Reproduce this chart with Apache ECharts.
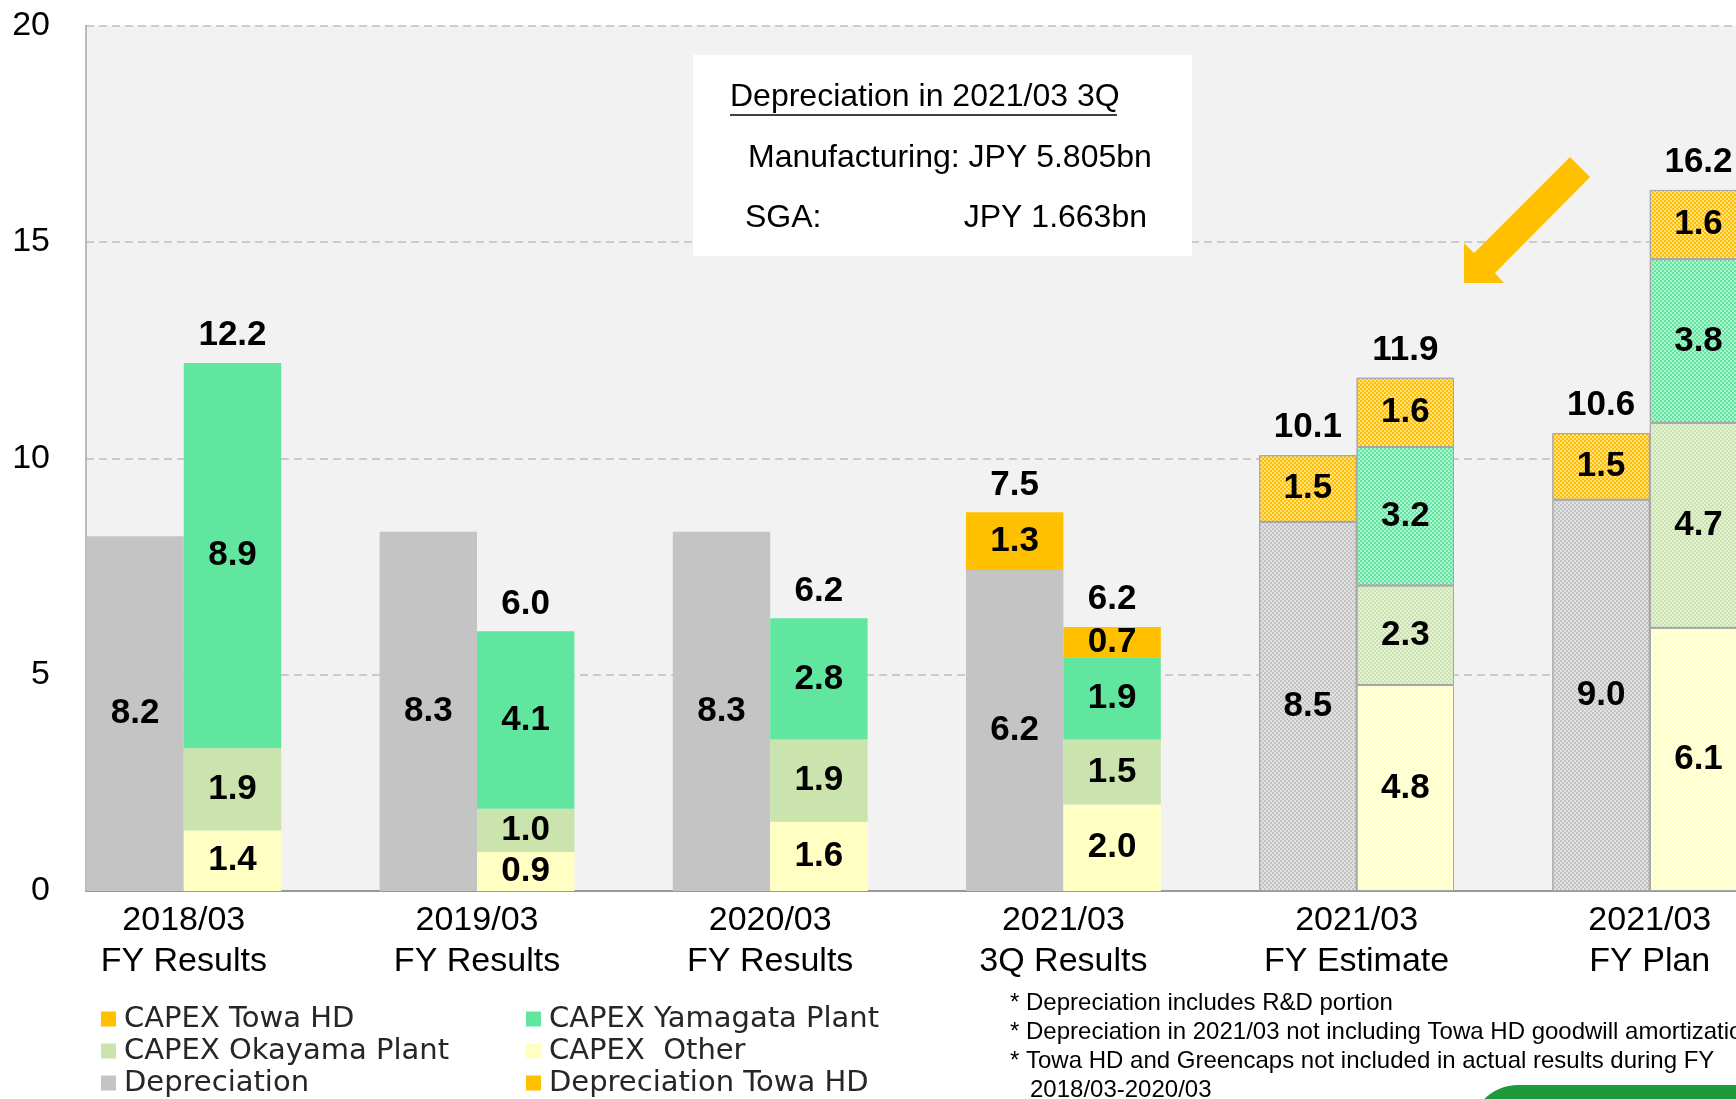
<!DOCTYPE html>
<html>
<head>
<meta charset="utf-8">
<title>Depreciation and CAPEX</title>
<script src="https://cdn.jsdelivr.net/npm/echarts@6/dist/echarts.min.js"></script>
<style>
  html, body { margin: 0; padding: 0; background: #fff; overflow: hidden; }
  /* wider than the window: the last column runs off the right edge as in the slide */
  #chart { width: 1800px; height: 1099px; }
</style>
</head>
<body>
<div id="chart"></div>
<script>
var categories = ['2018/03\nFY Results', '2019/03\nFY Results', '2020/03\nFY Results',
                  '2021/03\n3Q Results', '2021/03\nFY Estimate', '2021/03\nFY Plan'];

// left bar of each pair: depreciation (JPY bn)
var depreciation = [8.2, 8.3, 8.3, 7.42, 8.53, 9.04];
var depreciationLabels = ['8.2', '8.3', '8.3', '6.2', '8.5', '9.0'];
var depreciationTowa = [0, 0, 0, 1.33, 1.54, 1.54];
var depreciationTotals = ['', '', '', '7.5', '10.1', '10.6'];

// right bar of each pair: capex (JPY bn)
var capexOther = [1.4, 0.9, 1.6, 2.0, 4.76, 6.08];
var capexOkayama = [1.9, 1.0, 1.9, 1.5, 2.3, 4.74];
var capexYamagata = [8.9, 4.1, 2.8, 1.9, 3.2, 3.78];
var capexTowa = [0, 0, 0, 0.7, 1.6, 1.6];
var capexTotals = ['12.2', '6.0', '6.2', '6.2', '11.9', '16.2'];

var forecastFrom = 4; // estimate / plan columns are hatched

var footnotes = ['* Depreciation includes R&D portion',
                 '* Depreciation in 2021/03 not including Towa HD goodwill amortization',
                 '* Towa HD and Greencaps not included in actual results during FY',
                 '   2018/03-2020/03'];

function $extend(a, b) {
    var o = {};
    for (var k in a) o[k] = a[k];
    for (var k2 in b) o[k2] = b[k2];
    return o;
}

var hatch = {
    symbol: 'rect',
    symbolSize: 1,
    color: 'rgba(255,255,255,0.5)',
    dashArrayX: [[2, 2], [0, 2, 2, 0]],
    dashArrayY: [2, 0],
    rotation: 0
};

function makeData(values) {
    return values.map(function (v, i) {
        if (i < forecastFrom) return v;
        return { value: v, itemStyle: { decal: hatch, borderColor: '#a6a6a6', borderWidth: 1 } };
    });
}

var barFont = { color: '#000', fontFamily: 'Liberation Sans', fontWeight: 'bold', fontSize: 35 };

var segLabel = $extend(barFont, {
    show: true,
    position: 'inside',
    formatter: function (p) { return +p.value ? (+p.value).toFixed(1) : ''; }
});

function segSeries(name, stack, values, color) {
    return {
        name: name,
        type: 'bar',
        xAxisIndex: 1,
        yAxisIndex: 1,
        stack: stack,
        stackStrategy: 'all',
        barWidth: 97.4,
        barGap: '0%',
        itemStyle: { color: color },
        label: segLabel,
        data: makeData(values)
    };
}

function totalSeries(stack, totals) {
    return {
        name: stack + ' total',
        type: 'bar',
        xAxisIndex: 1,
        yAxisIndex: 1,
        stack: stack,
        stackStrategy: 'all',
        barWidth: 97.4,
        barGap: '0%',
        itemStyle: { color: 'transparent' },
        label: $extend(barFont, {
            show: true,
            position: 'top',
            distance: 10,
            formatter: function (p) { return totals[p.dataIndex]; }
        }),
        data: totals.map(function (t) { return t === '' ? '-' : 0; })
    };
}

var depSeries = segSeries('Depreciation', 'dep', depreciation, '#c4c4c4');
depSeries.label = $extend(segLabel, {
    formatter: function (p) { return depreciationLabels[p.dataIndex]; }
});

var legendCommon = {
    orient: 'vertical',
    top: 1004,
    padding: 0,
    itemWidth: 15,
    itemHeight: 15,
    itemGap: 2,
    icon: 'rect',
    selectedMode: false,
    textStyle: { fontFamily: 'DejaVu Sans', fontSize: 29, color: '#262626', lineHeight: 30, padding: [0, 0, 0, 3] }
};

var graphics = [
    { type: 'rect', z: 100, shape: { x: 693, y: 55, width: 499, height: 201 }, style: { fill: '#fff' } },
    { type: 'text', z: 101, style: { text: 'Depreciation in 2021/03 3Q', x: 730, y: 97, verticalAlign: 'middle',
        font: '32px "Liberation Sans"', fill: '#000' } },
    { type: 'line', z: 101, shape: { x1: 730, y1: 115, x2: 1117, y2: 115 }, style: { stroke: '#000', lineWidth: 1.5 } },
    { type: 'text', z: 101, style: { text: 'Manufacturing: JPY 5.805bn', x: 748, y: 158, verticalAlign: 'middle',
        font: '32px "Liberation Sans"', fill: '#000' } },
    { type: 'text', z: 101, style: { text: 'SGA:', x: 745, y: 218, verticalAlign: 'middle',
        font: '32px "Liberation Sans"', fill: '#000' } },
    { type: 'text', z: 101, style: { text: 'JPY 1.663bn', x: 1147, y: 218, align: 'right', verticalAlign: 'middle',
        font: '32px "Liberation Sans"', fill: '#000' } },
    // yellow arrow pointing at the estimate column
    { type: 'polygon', z: 101, shape: { points: [[1570, 157], [1590, 177], [1495, 273], [1504, 283],
        [1464, 283], [1464, 243], [1474, 253]] }, style: { fill: '#ffc000' } },
    // green shape peeking in the bottom right corner
    { type: 'rect', z: 101, shape: { x: 1470, y: 1085, width: 420, height: 120, r: 48 }, style: { fill: '#1f9a3a' } }
];
footnotes.forEach(function (t, i) {
    graphics.push({ type: 'text', z: 101, style: { text: t, x: 1010, y: 1003 + i * 29, verticalAlign: 'middle',
        font: '24px "Liberation Sans"', fill: '#000' } });
});

var plotTop = 25.5, plotBottom = 1099 - 891;

var option = {
    backgroundColor: '#fff',
    animation: false,
    grid: [
        // plot frame: background, value axis and gridlines
        { left: 86, top: plotTop, right: 0, bottom: plotBottom, show: true, backgroundColor: '#f2f2f2', borderWidth: 0 },
        // bars: category bands start left of the frame so the first pair sits on the axis
        { left: 37.2, top: plotTop, width: 1759.2, bottom: plotBottom }
    ],
    xAxis: [
        {
            gridIndex: 0,
            type: 'category',
            data: categories,
            axisLine: { show: true, lineStyle: { color: '#999', width: 2 } },
            axisTick: { show: false },
            axisLabel: { show: false }
        },
        {
            gridIndex: 1,
            type: 'category',
            data: categories,
            axisLine: { show: false },
            axisTick: { show: false },
            axisLabel: {
                interval: 0,
                color: '#000',
                fontFamily: 'Liberation Sans',
                fontSize: 34,
                lineHeight: 41,
                margin: 9
            }
        }
    ],
    yAxis: [
        {
            gridIndex: 0,
            type: 'value',
            min: 0,
            max: 20,
            interval: 5,
            axisLine: { show: true, lineStyle: { color: '#a6a6a6', width: 1.5 } },
            axisTick: { show: false },
            splitLine: { show: true, lineStyle: { color: '#bfbfbf', width: 1.5, type: [8, 5] } },
            axisLabel: { color: '#000', fontFamily: 'Liberation Sans', fontSize: 34, margin: 36 }
        },
        {
            gridIndex: 1,
            type: 'value',
            min: 0,
            max: 20,
            interval: 5,
            show: false,
            splitLine: { show: false }
        }
    ],
    legend: [
        $extend(legendCommon, { left: 101, data: ['CAPEX Towa HD', 'CAPEX Okayama Plant', 'Depreciation'] }),
        $extend(legendCommon, { left: 526, data: ['CAPEX Yamagata Plant', 'CAPEX  Other', 'Depreciation Towa HD'] })
    ],
    graphic: graphics,
    series: [
        depSeries,
        segSeries('Depreciation Towa HD', 'dep', depreciationTowa, '#ffc000'),
        totalSeries('dep', depreciationTotals),
        segSeries('CAPEX  Other', 'capex', capexOther, '#ffffc3'),
        segSeries('CAPEX Okayama Plant', 'capex', capexOkayama, '#cbe3ac'),
        segSeries('CAPEX Yamagata Plant', 'capex', capexYamagata, '#61e6a0'),
        segSeries('CAPEX Towa HD', 'capex', capexTowa, '#ffc000'),
        totalSeries('capex', capexTotals)
    ]
};

var myChart = echarts.init(document.getElementById('chart'));
myChart.setOption(option);
</script>
</body>
</html>
